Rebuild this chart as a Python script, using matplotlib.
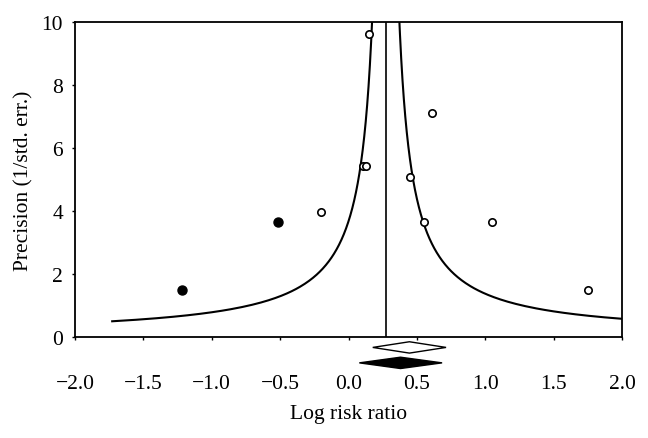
import numpy as np
import matplotlib
matplotlib.use("Agg")
import matplotlib.pyplot as plt

plt.rcParams['font.family'] = ['Liberation Serif', 'DejaVu Serif']

# observed studies (open circles)
obs_x = [0.15, 0.61, 0.105, 0.125, 0.45, -0.20, 0.555, 1.05, 1.75]
obs_y = [9.63, 7.12, 5.42, 5.42, 5.07, 3.96, 3.65, 3.65, 1.49]
# imputed studies (filled circles)
imp_x = [-1.22, -0.515]
imp_y = [1.49, 3.64]

# pooled line and funnel
center = 0.272
k_funnel = 1.0
p_min = 0.5
# summary diamonds: lower, point, upper
obs_diamond = [0.177, 0.445, 0.713]
imp_diamond = [0.079, 0.38, 0.684]

xticks = [-2.0, -1.5, -1.0, -0.5, 0.0, 0.5, 1.0, 1.5, 2.0]
yticks = [0, 2, 4, 6, 8, 10]

fig = plt.figure(figsize=(6.48, 4.39), dpi=100)
ax = fig.add_axes([0.1157, 0.230, 0.8443, 0.7176])

# funnel curves
p_left = np.linspace(p_min, 10, 400)
ax.plot(center - k_funnel / p_left, p_left, color='black', lw=1.5)
p_right = np.linspace(k_funnel / (2.0 - center), 10, 400)
ax.plot(center + k_funnel / p_right, p_right, color='black', lw=1.5)
ax.axvline(center, color='black', lw=1.2)

ax.plot(obs_x, obs_y, 'o', ms=5.3, mfc='white', mec='black', mew=1.2, zorder=3)
ax.plot(imp_x, imp_y, 'o', ms=6.5, mfc='black', mec='black', zorder=3)

# diamonds below the axis
def diamond(vals, yc, h, face):
    lo, mid, hi = vals
    ax.fill([lo, mid, hi, mid, lo], [yc, yc + h, yc, yc - h, yc],
            facecolor=face, edgecolor='black', lw=1.0, clip_on=False, zorder=4)

diamond(obs_diamond, -0.33, 0.18, 'white')
diamond(imp_diamond, -0.82, 0.18, 'black')

ax.set_xlim(-2.0, 2.0)
ax.set_ylim(0, 10)
ax.set_xticks(xticks)
ax.set_xticklabels([f"{t:.1f}".replace('-', '\u2212') for t in xticks])
ax.set_yticks(yticks)
ax.tick_params(axis='x', length=2.5, width=1.0, pad=24, labelsize=15.5)
ax.tick_params(axis='y', length=2.5, width=1.0, pad=6, labelsize=15.5)
for s in ax.spines.values():
    s.set_linewidth(1.3)
ax.set_xlabel('Log risk ratio', fontsize=15.5, labelpad=8)
ax.set_ylabel('Precision (1/std. err.)', fontsize=15.5, labelpad=6)

fig.savefig('out.png', dpi=100)
